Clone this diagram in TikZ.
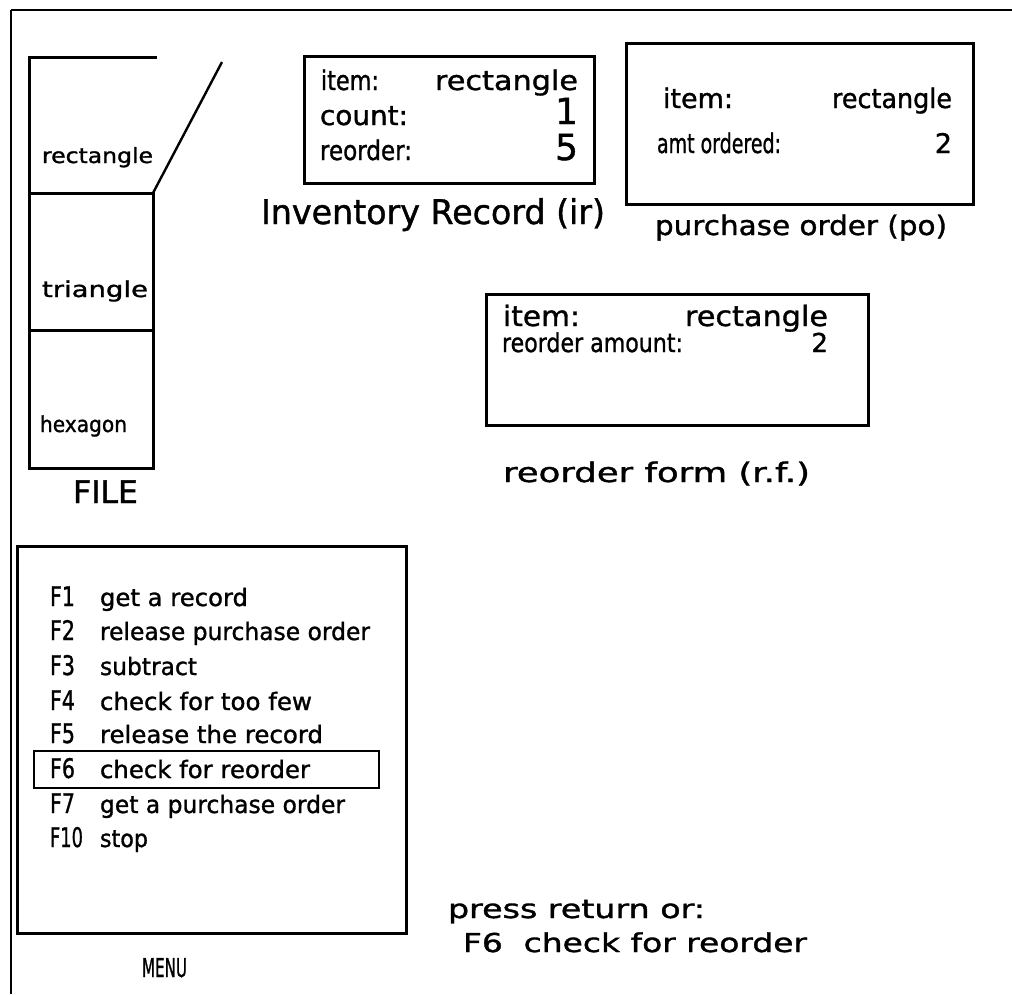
\documentclass[tikz,border=0pt]{standalone}
\usepackage{fontspec}
\usepackage{graphicx}
\setmainfont{DejaVu Sans}[FakeBold=1.2]
\newcommand{\tw}[2]{\resizebox{#1pt}{\height}{#2}}
\newcommand{\fs}[1]{\fontsize{#1pt}{#1pt}\selectfont}
\tikzset{
  lbl/.style={inner sep=0pt, outer sep=0pt, anchor=base west},
  lble/.style={inner sep=0pt, outer sep=0pt, anchor=base east},
  boxn/.style={draw, line width=3pt, inner sep=0pt, anchor=north west},
  edge/.style={line width=3pt},
}
\begin{document}
\begin{tikzpicture}[x=1pt, y=-1pt]
\fill[white] (0,0) rectangle (1012,994);
\useasboundingbox (0,0) rectangle (1012,994);
% outer frame
\draw[line width=2pt] (11,994) -- (11,10);
\draw[line width=2.6pt] (11,10) -- (1012,10);
% FILE stack
\draw[edge] (157,57) -- (29,57) -- (29,468) -- (153,468) -- (153,193) -- (29,193);
\draw[edge] (29,330) -- (153,330);
\coordinate (fc) at (153,193);
\coordinate (dtop) at (222,62);
\draw[line width=2.4pt] (fc) -- (dtop);
\node[lbl, font=\fs{21}] (frect) at (42,163) {\tw{111}{rectangle}};
\node[lbl, font=\fs{22}] (ftri) at (42,297) {\tw{106}{triangle}};
\node[lbl, font=\fs{22}] (fhex) at (40,432) {\tw{87}{hexagon}};
\node[lbl, font=\fs{31}] (ffile) at (73,503) {\tw{65}{FILE}};
% Inventory record
\node[boxn, minimum width=290pt, minimum height=127pt] (ir) at (303,55) {};
\node[lbl, font=\fs{27}] (iri) at (321,90) {\tw{58}{item:}};
\node[lble, font=\fs{27}] (irr) at (578,90) {\tw{143}{rectangle}};
\node[lbl, font=\fs{27}] (irc) at (320,125) {\tw{88}{count:}};
\node[lble, font=\fs{36}] (irc1) at (578,124) {1};
\node[lbl, font=\fs{27}] (irro) at (320,160) {\tw{92}{reorder:}};
\node[lble, font=\fs{36}] (irr5) at (578,160) {5};
\node[lbl, font=\fs{34}] (irlab) at (261,224) {\tw{344}{Inventory Record (ir)}};
% purchase order
\node[boxn, minimum width=347pt, minimum height=161pt] (po) at (625,42) {};
\node[lbl, font=\fs{27}] (poi) at (663,108) {\tw{70}{item:}};
\node[lble, font=\fs{27}] (por) at (952,108) {\tw{120}{rectangle}};
\node[lbl, font=\fs{27}] (poa) at (657,153) {\tw{124}{amt ordered:}};
\node[lble, font=\fs{27}] (po2) at (952,153) {2};
\node[lbl, font=\fs{27}] (polab) at (655,235) {\tw{292}{purchase order (po)}};
% reorder form
\node[boxn, minimum width=382pt, minimum height=131pt] (rf) at (485,293) {};
\node[lbl, font=\fs{28}] (rfi) at (503,326) {\tw{77}{item:}};
\node[lble, font=\fs{28}] (rfr) at (828,326) {\tw{143}{rectangle}};
\node[lbl, font=\fs{26}] (rfa) at (502,352) {\tw{181}{reorder amount:}};
\node[lble, font=\fs{26}] (rf2) at (828,352) {2};
\node[lbl, font=\fs{27}] (rflab) at (503,482) {\tw{307}{reorder form (r.f.)}};
% menu
\node[boxn, minimum width=389pt, minimum height=387pt] (menu) at (16,545) {};
\node[boxn, line width=2.4pt, minimum width=345pt, minimum height=37pt] (hl) at (33,750) {};
\node[lbl, font=\fs{27}] (k1) at (50,606) {\tw{25}{F1}};
\node[lbl, font=\fs{27}] (k2) at (50,640) {\tw{25}{F2}};
\node[lbl, font=\fs{27}] (k3) at (50,675) {\tw{25}{F3}};
\node[lbl, font=\fs{27}] (k4) at (50,710) {\tw{25}{F4}};
\node[lbl, font=\fs{27}] (k5) at (50,743) {\tw{25}{F5}};
\node[lbl, font=\fs{27}] (k6) at (50,778) {\tw{25}{F6}};
\node[lbl, font=\fs{27}] (k7) at (50,813) {\tw{25}{F7}};
\node[lbl, font=\fs{27}] (k10) at (50,847) {\tw{33}{F10}};
\node[lbl, font=\fs{24}] (c1) at (100,606) {\tw{148}{get a record}};
\node[lbl, font=\fs{24}] (c2) at (100,640) {\tw{270}{release purchase order}};
\node[lbl, font=\fs{24}] (c3) at (100,675) {\tw{97}{subtract}};
\node[lbl, font=\fs{24}] (c4) at (100,710) {\tw{212}{check for too few}};
\node[lbl, font=\fs{24}] (c5) at (100,743) {\tw{223}{release the record}};
\node[lbl, font=\fs{24}] (c6) at (100,778) {\tw{210}{check for reorder}};
\node[lbl, font=\fs{24}] (c7) at (100,813) {\tw{245}{get a purchase order}};
\node[lbl, font=\fs{24}] (c10) at (100,847) {\tw{48}{stop}};
\node[lbl, font=\fs{26}] (menulab) at (142,977) {\tw{45}{MENU}};
% prompt
\node[lbl, font=\fs{26}] (p1) at (448,918) {\tw{257}{press return or:}};
\node[lbl, font=\fs{26}] (p2) at (463,952) {\tw{344}{F6\ \ check for reorder}};
\end{tikzpicture}
\end{document}
